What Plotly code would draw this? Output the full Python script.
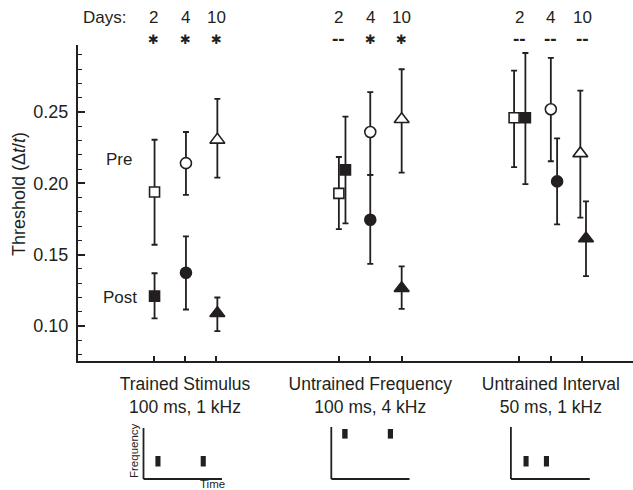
import plotly.graph_objects as go

# ---------------- data ----------------
groups = ["Trained Stimulus<br>100 ms, 1 kHz",
          "Untrained Frequency<br>100 ms, 4 kHz",
          "Untrained Interval<br>50 ms, 1 kHz"]
days = ["2", "4", "10"]
day_symbols = ["square", "circle", "triangle-up"]
day_sizes = [10, 11, 13]

# threshold means and error-bar ends, rows = groups, cols = days
pre_mean = [[0.194, 0.2142, 0.2305], [0.193, 0.236, 0.245], [0.246, 0.252, 0.221]]
pre_hi = [[0.2306, 0.236, 0.2593], [0.2185, 0.264, 0.280], [0.279, 0.288, 0.265]]
pre_lo = [[0.157, 0.192, 0.204], [0.168, 0.206, 0.2075], [0.2114, 0.2155, 0.176]]
post_mean = [[0.121, 0.1374, 0.109], [0.2095, 0.1745, 0.1265], [0.246, 0.2014, 0.1614]]
post_hi = [[0.137, 0.1628, 0.1200], [0.2468, 0.206, 0.1418], [0.2914, 0.2316, 0.1874]]
post_lo = [[0.1054, 0.1116, 0.0965], [0.172, 0.1436, 0.112], [0.1995, 0.1713, 0.135]]

# significance (pre vs post) per group and day
signif = [["*", "*", "*"], ["-", "*", "*"], ["-", "-", "-"]]

# small horizontal displacement of pre / post points (in day-slot units)
pre_dx = [[0.03, 0.03, 0.03], [0.0, 0.0, 0.0], [-0.17, 0.0, -0.06]]
post_dx = [[0.03, 0.03, 0.03], [0.21, 0.0, 0.0], [0.19, 0.2, 0.12]]

# ---------------- layout geometry ----------------
W, H = 633, 490
ML, MR, MT, MB = 78, 0, 45, 129
group_center = [1.0, 6.90, 12.65]
day_offset = [-1.0, 0.0, 1.0]
XR = [-2.408, 15.267]
YR = [0.0755, 0.297]
INK = "#231f20"
FONT = "Liberation Sans, Arial, sans-serif"

PW = W - ML - MR
PH = H - MT - MB


def px(xp):
    return (xp - ML) / PW


def py(yp):
    return (H - MB - yp) / PH


fig = go.Figure()

for d in range(3):
    for cond, mean, hi, lo, dx, fill in [
        ("Pre", pre_mean, pre_hi, pre_lo, pre_dx, "white"),
        ("Post", post_mean, post_hi, post_lo, post_dx, INK),
    ]:
        xs = [group_center[g] + day_offset[d] + dx[g][d] for g in range(3)]
        ys = [mean[g][d] for g in range(3)]
        up = [hi[g][d] - mean[g][d] for g in range(3)]
        dn = [mean[g][d] - lo[g][d] for g in range(3)]
        fig.add_trace(go.Scatter(
            x=xs, y=ys, mode="markers", name=f"{cond} day {days[d]}",
            marker=dict(symbol=day_symbols[d], size=day_sizes[d], color=fill,
                        line=dict(color=INK, width=1.6)),
            error_y=dict(type="data", symmetric=False, array=up, arrayminus=dn,
                         color=INK, thickness=1.8, width=3),
            showlegend=False, cliponaxis=False,
        ))


def note(x, y, text, size=17, xref="paper", angle=0, family=None):
    f = dict(size=size, color=INK)
    if family:
        f["family"] = family
    return dict(x=x, y=y, xref=xref, yref="paper", text=text, showarrow=False,
                xanchor="center", yanchor="middle", textangle=angle, font=f)


annotations = [note(px(104), py(18), "Days:")]
for g in range(3):
    for d in range(3):
        xd = group_center[g] + day_offset[d]
        annotations.append(note(xd, py(18), days[d], xref="x"))
        if signif[g][d] == "*":
            annotations.append(note(xd, py(40), "✱", size=13, xref="x",
                                    family="DejaVu Sans"))
        else:
            annotations.append(note(xd, py(39), "<b>--</b>", size=19, xref="x"))

annotations.append(note(px(119), py(159), "Pre"))
annotations.append(note(px(120), py(297), "Post"))
annotations.append(note(px(19), py(194), "Threshold (Δ<i>t</i>/<i>t</i>)",
                        size=18, angle=-90))
annotations.append(note(px(134), py(451), "Frequency", size=11.5, angle=-90))
annotations.append(note(px(212), py(484), "Time", size=11.5))

# stimulus schematics (frequency vs time icons)
shapes = []
icons = [
    dict(x0=143.5, x1=222, yt=428, yb=479, bars=[(155.4, 160.5), (200.7, 205.8)], by=(456, 466.5)),
    dict(x0=331.3, x1=409.5, yt=427, yb=479, bars=[(342.2, 347.6), (387.8, 393.0)], by=(429, 438.6)),
    dict(x0=510.9, x1=589.8, yt=427, yb=479, bars=[(523.5, 528.6), (543.9, 549.0)], by=(456, 466.5)),
]
for ic in icons:
    shapes.append(dict(type="line", xref="paper", yref="paper",
                       x0=px(ic["x0"]), x1=px(ic["x0"]), y0=py(ic["yt"]), y1=py(ic["yb"]),
                       line=dict(color=INK, width=1.8)))
    shapes.append(dict(type="line", xref="paper", yref="paper",
                       x0=px(ic["x0"]), x1=px(ic["x1"]), y0=py(ic["yb"]), y1=py(ic["yb"]),
                       line=dict(color=INK, width=1.8)))
    for b0, b1 in ic["bars"]:
        shapes.append(dict(type="rect", xref="paper", yref="paper",
                           x0=px(b0), x1=px(b1), y0=py(ic["by"][1]), y1=py(ic["by"][0]),
                           fillcolor=INK, line=dict(width=0)))

minor_x = [group_center[g] + day_offset[d] for g in range(3) for d in (0, 2)]
minor_y = [round(0.08 + 0.01 * i, 2) for i in range(22)]

fig.update_layout(
    width=W, height=H,
    margin=dict(l=ML, r=MR, t=MT, b=MB, pad=0),
    paper_bgcolor="white", plot_bgcolor="white",
    font=dict(family=FONT, color=INK, size=17),
    xaxis=dict(range=XR, showgrid=False, zeroline=False,
               showline=True, linecolor=INK, linewidth=2,
               tickvals=group_center, ticktext=groups,
               ticks="inside", ticklen=5, tickwidth=1.5, tickcolor=INK,
               tickfont=dict(size=17.5), ticklabelstandoff=6,
               minor=dict(tickvals=minor_x, ticks="inside", ticklen=5,
                          tickwidth=1.5, tickcolor=INK)),
    yaxis=dict(range=YR, showgrid=False, zeroline=False,
               showline=True, linecolor=INK, linewidth=2,
               tickvals=[0.10, 0.15, 0.20, 0.25],
               ticktext=["0.10", "0.15", "0.20", "0.25"],
               ticks="inside", ticklen=7, tickwidth=1.5, tickcolor=INK,
               tickfont=dict(size=18), ticklabelstandoff=4,
               minor=dict(tickvals=minor_y, ticks="inside", ticklen=4,
                          tickwidth=1.2, tickcolor=INK)),
    annotations=annotations,
    shapes=shapes,
)

fig.write_html("out.html", config={"displayModeBar": False},
               post_script="document.body.style.margin='0';document.body.style.overflow='hidden';")
